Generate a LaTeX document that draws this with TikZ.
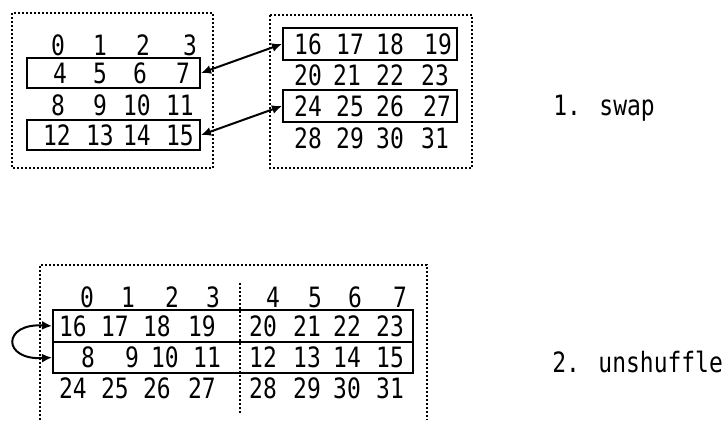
\documentclass[tikz,border=0pt]{standalone}
\usepackage{fontspec}
\newfontfamily\plotter[FakeStretch=0.82]{DejaVu Sans Mono}
\usetikzlibrary{arrows.meta}

\tikzset{
  zahl/.style={font=\plotter\fontsize{14}{14}\selectfont, inner sep=0pt},
  zeile/.style={draw, line width=1pt, inner sep=0pt},
  rahmen/.style={line width=0.8pt, dash pattern=on 1pt off 1pt},
  pfeil/.style={{Latex[length=5pt,width=4.5pt]}-{Latex[length=5pt,width=4.5pt]}, line width=1pt},
  schritt/.style={font=\plotter\fontsize{14}{14}\selectfont, inner sep=0pt, anchor=west},
}

\begin{document}
\begin{tikzpicture}[x=0.5pt, y=-0.5pt]
\useasboundingbox (0,0) rectangle (724,420);

% linker Block
\begin{scope}[local bounding box=A]
	\draw[rahmen] (12,13) rectangle (213,168);
	\node[zeile, minimum width=86.5pt, minimum height=15pt] (A1) at (113.5,73) {};
	\node[zeile, minimum width=86.5pt, minimum height=15pt] (A2) at (113.5,135) {};
	% Zahlen
	\foreach \n/\x in {0/58,1/100,2/143,3/190} \node[zahl] (a\n) at (\x,45) {\n};
	\foreach \n/\x in {4/60,5/100,6/140,7/183} \node[zahl] (a\n) at (\x,73) {\n};
	\foreach \n/\x in {8/58,9/100,10/137,11/180} \node[zahl] (a\n) at (\x,105) {\n};
	\foreach \n/\x in {12/57,13/100,14/137,15/180} \node[zahl] (a\n) at (\x,135) {\n};
\end{scope}

% rechter Block
\begin{scope}[local bounding box=B]
	\draw[rahmen] (270,15) rectangle (472,168);
	\node[zeile, minimum width=87pt, minimum height=16pt] (B1) at (370,44) {};
	\node[zeile, minimum width=87pt, minimum height=16pt] (B3) at (370,106) {};
	% Zahlen
	\foreach \n/\x in {16/308,17/350,18/390,19/438} \node[zahl] (b\n) at (\x,44) {\n};
	\foreach \n/\x in {20/308,21/347,22/390,23/435} \node[zahl] (b\n) at (\x,75) {\n};
	\foreach \n/\x in {24/308,25/350,26/390,27/437} \node[zahl] (b\n) at (\x,106) {\n};
	\foreach \n/\x in {28/308,29/350,30/390,31/435} \node[zahl] (b\n) at (\x,138) {\n};
\end{scope}

% Tausch
\draw[pfeil] (A1.east) -- (B1.west);
\draw[pfeil] (A2.east) -- (B3.west);
\node[schritt] (swap) at (553,108) {1. swap};

% unterer Block
\begin{scope}[local bounding box=C]
	\draw[rahmen] (40,420) -- (40,265) -- (427,265) -- (427,420);
	\draw[rahmen] (240,283) -- (240,415);
	\node[zeile, minimum width=180pt, minimum height=16pt] (C1) at (233,326) {};
	\node[zeile, minimum width=180pt, minimum height=15.5pt] (C2) at (233,357.5) {};
	% Zahlen links
	\foreach \n/\x in {0/87,1/128,2/172,3/213} \node[zahl] (cl\n) at (\x,297) {\n};
	\foreach \n/\x in {16/73,17/115,18/157,19/202} \node[zahl] (cl\n) at (\x,326) {\n};
	\foreach \n/\x in {8/88,9/132,10/165,11/207} \node[zahl] (cl\n) at (\x,357) {\n};
	\foreach \n/\x in {24/73,25/115,26/157,27/202} \node[zahl] (cl\n) at (\x,388) {\n};
	% Zahlen rechts
	\foreach \n/\x in {4/273,5/315,6/355,7/400} \node[zahl] (cr\n) at (\x,297) {\n};
	\foreach \n/\x in {20/263,21/307,22/347,23/390} \node[zahl] (cr\n) at (\x,326) {\n};
	\foreach \n/\x in {12/263,13/307,14/347,15/390} \node[zahl] (cr\n) at (\x,357) {\n};
	\foreach \n/\x in {28/263,29/307,30/347,31/390} \node[zahl] (cr\n) at (\x,388) {\n};
\end{scope}

% Entmischen
\draw[pfeil] (C1.west) .. controls +(-50,-3) and +(-50,3) .. (C2.west);
\node[schritt] (unshuffle) at (552,362) {2. unshuffle};
\end{tikzpicture}
\end{document}
